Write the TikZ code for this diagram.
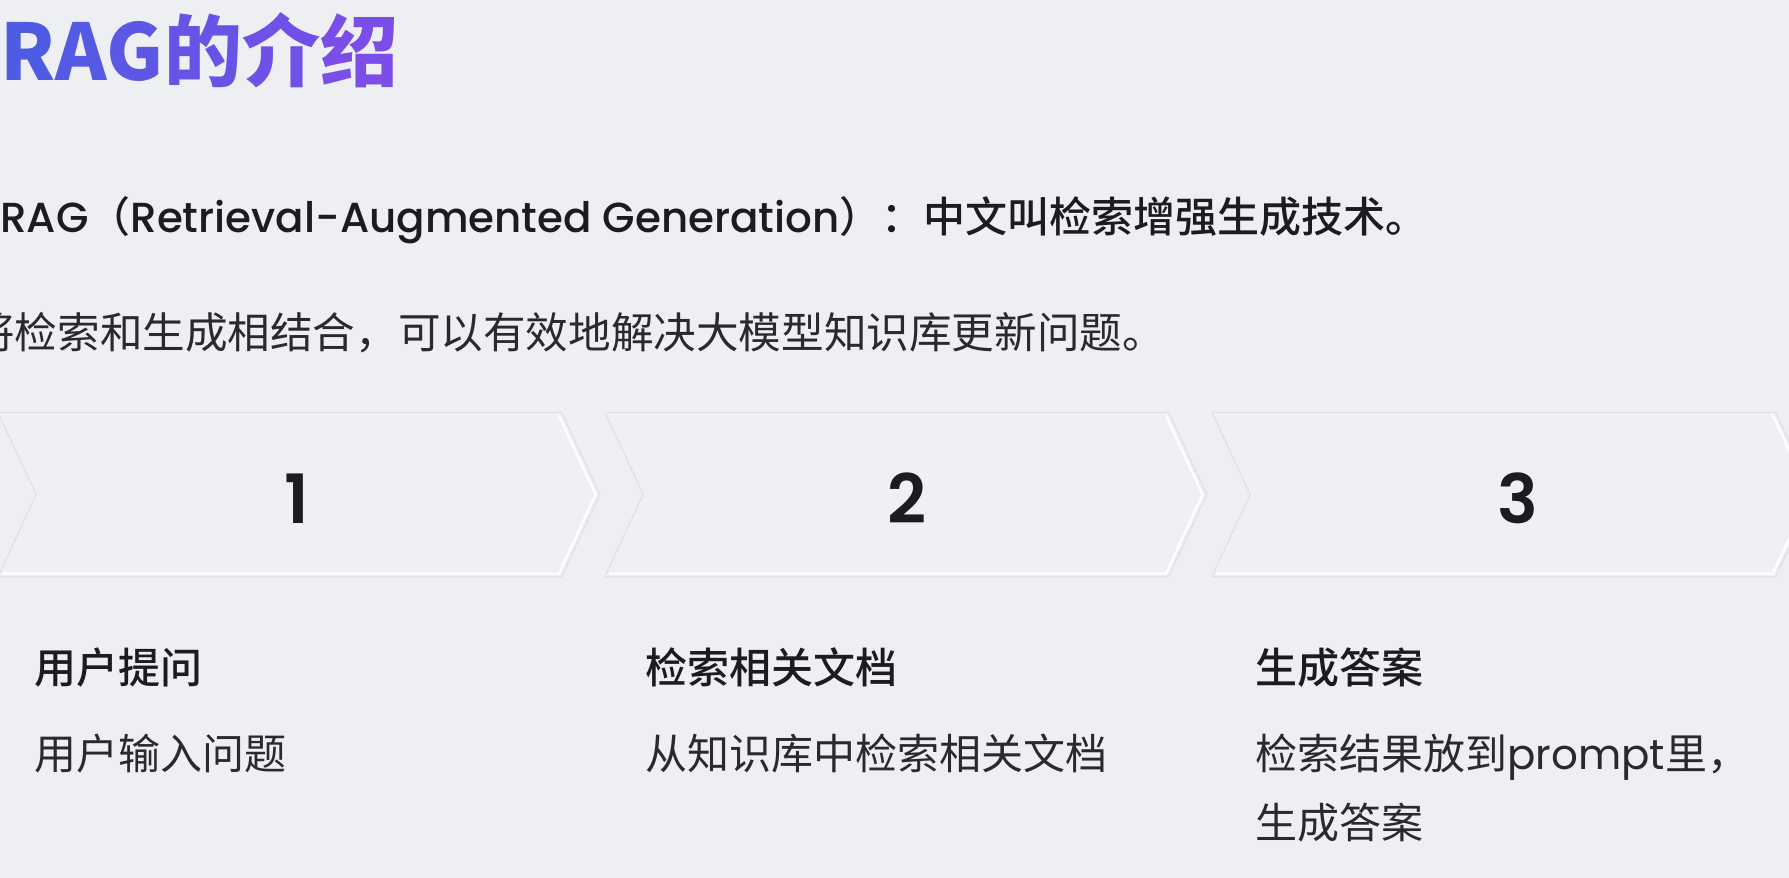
\documentclass[tikz,border=0pt]{standalone}
\usepackage{fontspec}
\setmainfont{Poppins}
\newfontfamily\cjk{Noto Sans CJK SC}
\IfFontExistsTF{Poppins SemiBold}{\newfontfamily\popsb{Poppins SemiBold}}{\newfontfamily\popsb{Poppins}[UprightFont=*-Bold]}
\IfFontExistsTF{Poppins Medium}{\newfontfamily\popmd{Poppins Medium}}{\newfontfamily\popmd{Poppins}[UprightFont=*-Bold]}
\IfFontExistsTF{Noto Sans CJK SC Medium}{\newfontfamily\cjkmd{Noto Sans CJK SC Medium}}{\newfontfamily\cjkmd{Noto Sans CJK SC}[UprightFont=*-Bold]}
\definecolor{bg}{HTML}{EEEFF3}
\definecolor{chevfill}{HTML}{EFF0F4}
\definecolor{chevline}{HTML}{DFE0E5}
\definecolor{ink}{HTML}{1C1C1E}
\definecolor{body}{HTML}{2A2A2D}
\definecolor{t1}{HTML}{4E5CE3}
\definecolor{t2}{HTML}{555AE5}
\definecolor{t3}{HTML}{5D57E6}
\definecolor{t4}{HTML}{6654E7}
\definecolor{t5}{HTML}{7051E8}
\definecolor{t6}{HTML}{7B4EE8}
\newcommand\mychev[1]{%
  \begin{scope}[xshift=#1pt]
    \draw[chevline, line width=2.5pt, line join=round]
      (0,413) -- (562,413) -- (600,494.5) -- (562,576) -- (0,576) -- (38,494.5) -- cycle;
    \fill[chevfill]
      (0,413) -- (562,413) -- (600,494.5) -- (562,576) -- (0,576) -- (38,494.5) -- cycle;
    \draw[white, line width=2.2pt, line cap=round, line join=round]
      (4,573.5) -- (560,573.5) -- (596.5,494.5) -- (560,415.5);
  \end{scope}}
\begin{document}
\begin{tikzpicture}[x=1pt, y=-1pt,
  txt/.style={inner sep=0pt, anchor=base west},
  numtxt/.style={inner sep=0pt, anchor=base, text=ink, font=\fontsize{68}{70}\selectfont\popsb},
  head/.style={txt, text=ink, font=\fontsize{42}{50}\selectfont\cjkmd},
  desc/.style={txt, text=body, font=\fontsize{42}{50}\selectfont\cjk}]
\useasboundingbox (0,0) rectangle (1789,878);
\clip (0,0) rectangle (1789,878);
\fill[bg] (0,0) rectangle (1789,878);

% title
\node[txt, font=\fontsize{78}{86}\selectfont\cjk\bfseries] (title) at (0,80)
  {\textcolor{t1}{R}\textcolor{t2}{A}\textcolor{t3}{G}\textcolor{t4}{的}\textcolor{t5}{介}\textcolor{t6}{绍}};

% line 2
\node[txt, text=ink, font=\fontsize{42}{50}\selectfont\popmd] (def) at (0,232)
  {RAG{\cjkmd （}Retrieval-Augmented Generation{\cjkmd ）：中文叫检索增强生成技术。}};

% line 3
\node[txt, text=body, font=\fontsize{42.6}{50}\selectfont\cjk] (idea) at (-28,348)
  {将检索和生成相结合，可以有效地解决大模型知识库更新问题。};

% chevrons
\mychev{-1}
\mychev{606}
\mychev{1213}

\node[numtxt] (n1) at (297,523) {1};
\node[numtxt] (n2) at (907,523) {2};
\node[numtxt] (n3) at (1518,523) {3};

% captions
\node[head] (h1) at (34,683) {用户提问};
\node[desc] (d1) at (34,769) {用户输入问题};
\node[head] (h2) at (645,683) {检索相关文档};
\node[desc] (d2) at (645,769) {从知识库中检索相关文档};
\node[head] (h3) at (1255,683) {生成答案};
\node[desc] (d3) at (1255,769) {检索结果放到{\fontspec{Poppins}prompt}里，};
\node[desc] (d3b) at (1255,838) {生成答案};
\end{tikzpicture}
\end{document}
